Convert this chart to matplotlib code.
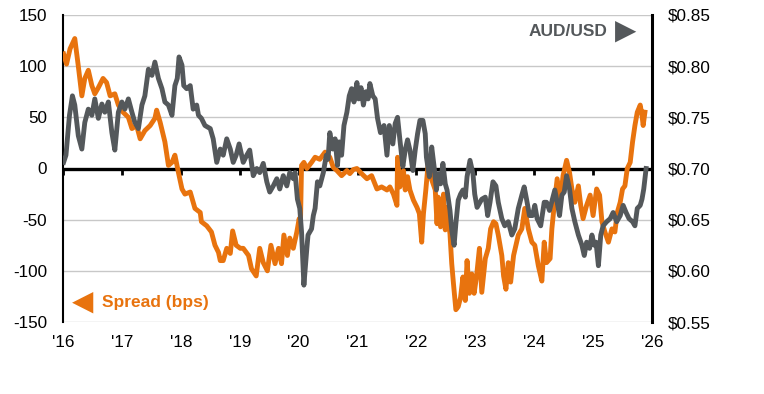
import matplotlib
matplotlib.use("Agg")
import matplotlib.pyplot as plt
import matplotlib.transforms as mtransforms

plt.rcParams['font.family'] = ['Liberation Sans', 'DejaVu Sans']
plt.rcParams['axes.unicode_minus'] = False

# ---- Data (decimal years) ----
spread_t = [2016.01, 2016.06, 2016.12, 2016.20, 2016.26, 2016.32, 2016.37, 2016.43, 2016.49, 2016.54,
            2016.60, 2016.68, 2016.74, 2016.80, 2016.88, 2016.94, 2017.02, 2017.11, 2017.17, 2017.25,
            2017.31, 2017.39, 2017.48, 2017.56, 2017.59, 2017.65, 2017.73, 2017.79, 2017.85, 2017.90,
            2017.96, 2018.02, 2018.07, 2018.16, 2018.24, 2018.33, 2018.35, 2018.44, 2018.52, 2018.58,
            2018.64, 2018.67, 2018.72, 2018.78, 2018.84, 2018.88, 2018.94, 2019.01, 2019.06, 2019.15,
            2019.20, 2019.28, 2019.34, 2019.40, 2019.47, 2019.53, 2019.60, 2019.66, 2019.71, 2019.75,
            2019.81, 2019.85, 2019.91, 2019.97, 2020.01, 2020.03, 2020.05, 2020.09, 2020.14, 2020.22,
            2020.28, 2020.36, 2020.45, 2020.53, 2020.59, 2020.65, 2020.73, 2020.82, 2020.87, 2020.93,
            2020.99, 2021.07, 2021.16, 2021.24, 2021.33, 2021.41, 2021.50, 2021.55, 2021.61, 2021.67,
            2021.68, 2021.72, 2021.78, 2021.81, 2021.85, 2021.89, 2021.95, 2022.01, 2022.05, 2022.09,
            2022.12, 2022.16, 2022.20, 2022.23, 2022.26, 2022.32, 2022.35, 2022.37, 2022.41, 2022.46,
            2022.49, 2022.52, 2022.57, 2022.60, 2022.63, 2022.67, 2022.71, 2022.75, 2022.79, 2022.83,
            2022.86, 2022.90, 2022.94, 2022.98, 2023.02, 2023.07, 2023.11, 2023.17, 2023.22, 2023.26,
            2023.31, 2023.35, 2023.39, 2023.45, 2023.48, 2023.52, 2023.56, 2023.60, 2023.65, 2023.69,
            2023.73, 2023.79, 2023.84, 2023.90, 2023.96, 2024.01, 2024.07, 2024.13, 2024.17, 2024.21,
            2024.27, 2024.30, 2024.35, 2024.39, 2024.44, 2024.49, 2024.55, 2024.60, 2024.64, 2024.69,
            2024.75, 2024.79, 2024.83, 2024.89, 2024.95, 2025.00, 2025.06, 2025.11, 2025.15, 2025.20,
            2025.26, 2025.32, 2025.37, 2025.41, 2025.46, 2025.50, 2025.54, 2025.58, 2025.63, 2025.67,
            2025.71, 2025.75, 2025.80, 2025.83, 2025.85, 2025.88]
spread_bps = [112, 102, 117, 127, 100, 71, 88, 96, 81, 73,
              79, 88, 84, 71, 73, 62, 55, 50, 39, 42,
              29, 37, 42, 49, 57, 45, 26, 3, 6, 13,
              -4, -20, -25, -23, -39, -43, -52, -56, -62, -75,
              -82, -90, -90, -78, -83, -61, -75, -78, -78, -85,
              -98, -105, -78, -92, -100, -75, -93, -78, -93, -65,
              -85, -68, -78, -62, -49, -58, 3, 6, 0, 6,
              11, 9, 16, 11, 1, -2, -7, -2, -5, -1,
              0, -5, -10, -7, -20, -18, -21, -18, -25, -36,
              11, -18, -2, -21, -8, -21, -31, -38, -44, -72,
              -44, -21, 5, 2, -11, -21, -54, -28, -57, -25,
              -60, -38, -64, -93, -113, -138, -135, -126, -106, -129,
              -90, -122, -103, -122, -106, -78, -121, -88, -78, -59,
              -52, -54, -65, -85, -105, -118, -92, -111, -85, -75,
              -65, -59, -39, -59, -72, -75, -95, -110, -72, -92,
              -88, -59, -30, -10, -33, -7, 8, -4, -20, -33,
              -17, -36, -49, -36, -26, -46, -20, -26, -52, -62,
              -72, -59, -62, -43, -33, -20, -17, 0, 6, 26,
              42, 55, 62, 52, 42, 55]

aud_t = [2016.01, 2016.05, 2016.11, 2016.16, 2016.20, 2016.26, 2016.32, 2016.37, 2016.43, 2016.49,
         2016.54, 2016.60, 2016.66, 2016.71, 2016.77, 2016.83, 2016.88, 2016.94, 2017.00, 2017.05,
         2017.11, 2017.17, 2017.22, 2017.28, 2017.34, 2017.39, 2017.45, 2017.51, 2017.56, 2017.62,
         2017.68, 2017.73, 2017.79, 2017.85, 2017.90, 2017.94, 2017.97, 2018.02, 2018.05, 2018.10,
         2018.16, 2018.21, 2018.27, 2018.30, 2018.35, 2018.41, 2018.50, 2018.55, 2018.61, 2018.67,
         2018.72, 2018.78, 2018.84, 2018.89, 2018.94, 2018.99, 2019.06, 2019.12, 2019.17, 2019.23,
         2019.29, 2019.34, 2019.40, 2019.46, 2019.51, 2019.57, 2019.63, 2019.68, 2019.74, 2019.80,
         2019.85, 2019.91, 2019.94, 2019.98, 2020.02, 2020.05, 2020.09, 2020.14, 2020.16, 2020.22,
         2020.25, 2020.28, 2020.32, 2020.36, 2020.42, 2020.47, 2020.50, 2020.53, 2020.58, 2020.62,
         2020.66, 2020.69, 2020.73, 2020.77, 2020.82, 2020.86, 2020.90, 2020.94, 2020.99, 2021.02,
         2021.06, 2021.10, 2021.14, 2021.18, 2021.21, 2021.26, 2021.30, 2021.34, 2021.39, 2021.45,
         2021.50, 2021.54, 2021.60, 2021.64, 2021.68, 2021.72, 2021.77, 2021.81, 2021.85, 2021.89,
         2021.94, 2021.98, 2022.02, 2022.06, 2022.11, 2022.15, 2022.17, 2022.22, 2022.26, 2022.30,
         2022.34, 2022.37, 2022.41, 2022.45, 2022.49, 2022.52, 2022.57, 2022.60, 2022.64, 2022.67,
         2022.71, 2022.75, 2022.79, 2022.83, 2022.86, 2022.91, 2022.96, 2022.99, 2023.03, 2023.11,
         2023.17, 2023.21, 2023.25, 2023.30, 2023.35, 2023.39, 2023.45, 2023.50, 2023.56, 2023.62,
         2023.67, 2023.73, 2023.79, 2023.83, 2023.87, 2023.92, 2023.97, 2024.01, 2024.05, 2024.11,
         2024.17, 2024.21, 2024.26, 2024.31, 2024.35, 2024.39, 2024.43, 2024.47, 2024.51, 2024.55,
         2024.60, 2024.64, 2024.69, 2024.75, 2024.81, 2024.85, 2024.89, 2024.94, 2024.98, 2025.02,
         2025.05, 2025.09, 2025.13, 2025.17, 2025.23, 2025.29, 2025.34, 2025.40, 2025.46, 2025.51,
         2025.56, 2025.61, 2025.67, 2025.71, 2025.75, 2025.80, 2025.83, 2025.86, 2025.90]
aud_usd = [0.706, 0.713, 0.752, 0.771, 0.762, 0.732, 0.719, 0.745, 0.758, 0.752,
           0.768, 0.749, 0.763, 0.755, 0.765, 0.735, 0.718, 0.755, 0.765, 0.758,
           0.768, 0.755, 0.745, 0.739, 0.762, 0.771, 0.797, 0.791, 0.804, 0.788,
           0.778, 0.765, 0.762, 0.752, 0.781, 0.788, 0.809, 0.801, 0.781, 0.778,
           0.781, 0.758, 0.762, 0.752, 0.749, 0.742, 0.739, 0.729, 0.706, 0.719,
           0.713, 0.729, 0.719, 0.706, 0.713, 0.724, 0.706, 0.713, 0.718, 0.693,
           0.700, 0.696, 0.705, 0.687, 0.677, 0.683, 0.690, 0.680, 0.693, 0.683,
           0.696, 0.690, 0.696, 0.670, 0.661, 0.638, 0.586, 0.622, 0.635, 0.641,
           0.654, 0.661, 0.687, 0.683, 0.696, 0.713, 0.709, 0.735, 0.719, 0.729,
           0.703, 0.726, 0.713, 0.742, 0.755, 0.771, 0.778, 0.765, 0.784, 0.768,
           0.779, 0.762, 0.775, 0.768, 0.783, 0.771, 0.768, 0.749, 0.735, 0.742,
           0.713, 0.742, 0.724, 0.744, 0.750, 0.728, 0.702, 0.718, 0.728, 0.718,
           0.698, 0.718, 0.734, 0.747, 0.747, 0.734, 0.711, 0.692, 0.721, 0.702,
           0.679, 0.695, 0.685, 0.705, 0.685, 0.679, 0.659, 0.640, 0.625, 0.646,
           0.669, 0.675, 0.679, 0.672, 0.692, 0.708, 0.695, 0.675, 0.662, 0.670,
           0.672, 0.654, 0.667, 0.687, 0.683, 0.667, 0.651, 0.644, 0.648, 0.635,
           0.641, 0.661, 0.674, 0.682, 0.670, 0.654, 0.654, 0.664, 0.651, 0.644,
           0.667, 0.667, 0.659, 0.670, 0.679, 0.667, 0.654, 0.674, 0.677, 0.693,
           0.680, 0.661, 0.648, 0.635, 0.625, 0.615, 0.628, 0.622, 0.635, 0.625,
           0.628, 0.605, 0.635, 0.644, 0.648, 0.651, 0.657, 0.648, 0.654, 0.664,
           0.657, 0.651, 0.648, 0.644, 0.661, 0.664, 0.670, 0.680, 0.700]

year_ticks = list(range(2016, 2027))
year_labels = ["'16", "'17", "'18", "'19", "'20", "'21", "'22", "'23", "'24", "'25", "'26"]
left_ticks = [150, 100, 50, 0, -50, -100, -150]
right_ticks = [0.85, 0.80, 0.75, 0.70, 0.65, 0.60, 0.55]

ORANGE = '#E8730E'
GREY = '#54585B'

fig = plt.figure(figsize=(7.64, 3.94), dpi=100)
ax = fig.add_axes([63/764, 1 - 322/394, 589/764, 307/394])
ax2 = ax.twinx()

ax.plot(spread_t, spread_bps, color=ORANGE, lw=3.5, solid_joinstyle='round', zorder=3)
ax2.plot(aud_t, aud_usd, color=GREY, lw=3.5, solid_joinstyle='round', zorder=3)

ax.set_xlim(2016, 2026)
ax.set_ylim(-150, 150)
ax2.set_ylim(0.55, 0.85)

# gridlines
ax.set_yticks(left_ticks)
ax.set_yticklabels([str(v) for v in left_ticks])
for v in left_ticks:
    if v != 0:
        ax.axhline(v, color='#c8c8c8', lw=1.0, zorder=0)
ax.axhline(0, color='black', lw=2.4, zorder=2)

ax.tick_params(axis='y', length=0, pad=11.5, labelsize=12.3, labelcolor='black')
ax2.set_yticks(right_ticks)
ax2.set_yticklabels(['${:.2f}'.format(v) for v in right_ticks])
ax2.tick_params(axis='y', length=0, pad=11.5, labelsize=12.3, labelcolor='black')

# x ticks on zero line
ax.set_xticks(year_ticks)
ax.spines['bottom'].set_position(('data', 0))
ax.tick_params(axis='x', direction='out', length=4, width=2, color='black', labelbottom=False)
trans = mtransforms.blended_transform_factory(ax.transData, ax.transAxes)
for t, lab in zip(year_ticks, year_labels):
    ax.text(t, -0.068, lab, transform=trans, ha='center', va='center', fontsize=12.3, color='black')

for a in (ax, ax2):
    a.spines['top'].set_visible(False)
    a.spines['bottom'].set_visible(False)
ax.spines['left'].set_linewidth(1.5)
ax.spines['right'].set_visible(False)
ax2.spines['left'].set_visible(False)
ax2.spines['right'].set_linewidth(2.2)

# series labels
ax2.text(0.924, 0.945, 'AUD/USD', transform=ax.transAxes, ha='right', va='center',
         fontsize=12.5, fontweight='bold', color=GREY, zorder=5)
ax2.text(0.956, 0.950, '\u25B6', transform=ax.transAxes, ha='center', va='center',
         fontsize=20, color=GREY, family='DejaVu Sans', zorder=5)
ax2.text(0.033, 0.067, '\u25C0', transform=ax.transAxes, ha='center', va='center',
         fontsize=20, color=ORANGE, family='DejaVu Sans', zorder=5)
ax2.text(0.066, 0.065, 'Spread (bps)', transform=ax.transAxes, ha='left', va='center',
         fontsize=12.5, fontweight='bold', color=ORANGE, zorder=5)

fig.savefig('out.png', dpi=100)
